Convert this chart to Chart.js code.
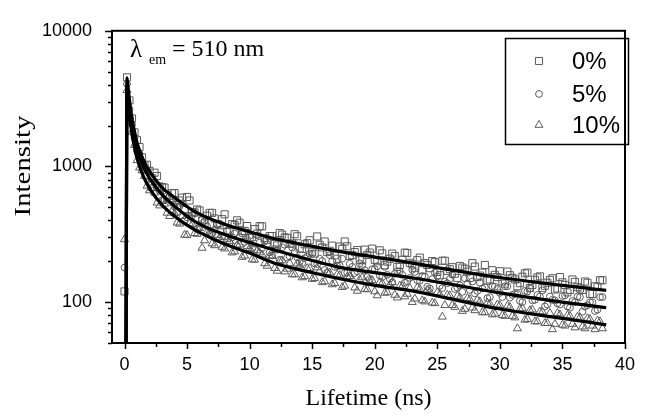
<!DOCTYPE html>
<html>
<head>
<meta charset="utf-8">
<script src="https://cdn.jsdelivr.net/npm/chart.js@4.4.0/dist/chart.umd.min.js"></script>
<style>
  html, body { margin: 0; padding: 0; background: #fff; }
  #wrap { width: 646px; height: 417px; }
</style>
</head>
<body>
<div id="wrap"><canvas id="decayChart" width="646" height="417"></canvas></div>
<script>
// time channels (ns): set A = rising edge + 0.2, 0.6, ... 38.2 ; set B = 0.4, 0.8, ... 38.0
const timesA = [0];
for (let i = 0; i < 96; i++) timesA.push(+(0.2 + i * 0.4).toFixed(1));
const timesB = [];
for (let i = 0; i < 95; i++) timesB.push(+(0.4 + i * 0.4).toFixed(1));

const pct0A = [120, 4540, 2260, 1570, 1170, 1030, 820, 850, 705, 618, 635,
    520, 589, 596, 461, 482, 400, 434, 455, 375, 409,
    329, 376, 401, 333, 364, 301, 320, 362, 287, 307,
    262, 315, 298, 270, 306, 247, 272, 235, 305, 253,
    234, 261, 209, 247, 258, 222, 242, 204, 223, 248,
    200, 229, 199, 228, 182, 205, 230, 190, 204, 172,
    188, 201, 167, 202, 170, 181, 151, 180, 168, 194,
    153, 165, 144, 172, 153, 142, 168, 151, 131, 154,
    165, 134, 152, 127, 139, 150, 126, 140, 118, 147,
    129, 123, 139, 115, 130, 145];
const pct0B = [3070, 1785, 1390, 1020, 930, 900, 713, 699, 582, 637,
    561, 485, 561, 458, 474, 380, 455, 414, 369, 444,
    337, 371, 385, 335, 297, 346, 363, 296, 307, 268,
    323, 300, 270, 317, 249, 267, 286, 228, 265, 280,
    239, 221, 257, 280, 219, 234, 204, 244, 232, 205,
    241, 187, 209, 219, 188, 232, 195, 179, 213, 194,
    178, 197, 158, 202, 175, 162, 185, 176, 151, 183,
    157, 188, 147, 159, 169, 137, 158, 147, 138, 163,
    127, 146, 155, 132, 146, 124, 153, 134, 123, 141,
    126, 142, 115, 131, 145];
const pct5A = [180, 4050, 2040, 1300, 1076, 943, 742, 694, 564, 606, 542,
    463, 535, 421, 435, 345, 407, 363, 319, 376, 306,
    337, 300, 260, 320, 291, 248, 311, 251, 267, 221,
    244, 254, 213, 252, 214, 194, 217, 227, 191, 201,
    165, 201, 184, 209, 165, 182, 169, 187, 153, 175,
    184, 153, 159, 140, 169, 159, 143, 173, 145, 156,
    130, 148, 155, 127, 138, 159, 128, 119, 137, 142,
    121, 126, 107, 131, 125, 109, 131, 113, 115, 100,
    120, 103, 113, 122, 96, 104, 98, 111, 93, 102,
    110, 85, 95, 100, 88, 109];
const pct5B = [2640, 1625, 1242, 946, 771, 760, 663, 568, 600, 506,
    509, 402, 433, 451, 359, 396, 321, 341, 379, 304,
    273, 320, 303, 278, 309, 245, 275, 281, 233, 247,
    205, 265, 217, 235, 198, 211, 228, 193, 209, 173,
    222, 182, 186, 164, 192, 164, 193, 172, 148, 175,
    157, 182, 149, 162, 169, 139, 151, 167, 144, 154,
    126, 165, 132, 142, 148, 125, 133, 150, 123, 116,
    139, 129, 109, 130, 117, 131, 108, 115, 102, 121,
    126, 104, 110, 93, 110, 103, 96, 112, 91, 100,
    109, 93, 100, 86, 109];
const pct10A = [290, 3650, 1800, 1110, 935, 720, 690, 540, 555, 455, 470,
    385, 430, 312, 375, 318, 251, 330, 270, 312, 255,
    290, 232, 262, 215, 258, 206, 240, 224, 185, 218,
    170, 203, 176, 160, 192, 152, 178, 148, 180, 140,
    166, 135, 160, 129, 154, 148, 121, 152, 124, 145,
    112, 138, 118, 140, 108, 131, 115, 100, 128, 103,
    123, 99, 118, 78, 113, 95, 111, 86, 107, 91,
    104, 84, 99, 81, 96, 80, 94, 79, 64, 90,
    75, 88, 72, 85, 70, 63, 83, 68, 80, 69,
    78, 66, 76, 67, 73, 64];
const pct10B = [2350, 1440, 980, 850, 665, 640, 515, 530, 430, 452,
    378, 313, 380, 322, 350, 285, 318, 262, 300, 248,
    282, 236, 265, 220, 250, 205, 232, 193, 220, 178,
    200, 168, 194, 160, 186, 155, 178, 150, 170, 142,
    165, 138, 158, 132, 155, 128, 147, 125, 143, 120,
    140, 117, 134, 113, 132, 110, 127, 106, 125, 101,
    120, 98, 114, 95, 112, 92, 108, 89, 105, 87,
    101, 84, 97, 82, 95, 79, 92, 77, 89, 74,
    87, 72, 85, 70, 83, 69, 81, 67, 79, 65,
    77, 64, 75, 63, 72];

// fitted curves (drawn as lines)
const fitTimes = [0.12, 0.2, 0.3, 0.5, 0.75, 1, 1.5, 2, 3, 4, 5, 6, 8, 10, 12.25, 15, 17, 20, 23.2, 25.6, 30, 35, 38.5];
const fit0  = [40, 4500, 3700, 2600, 1900, 1500, 1120, 920, 700, 590, 505, 445, 375, 330, 290, 258, 238, 215, 193, 176, 152, 133, 122];
const fit5  = [40, 4100, 3300, 2300, 1700, 1350, 1000, 820, 620, 510, 430, 376, 315, 275, 238, 203, 182, 165, 150, 138, 117, 100, 91];
const fit10 = [40, 3700, 2900, 2000, 1450, 1150, 850, 690, 520, 430, 370, 327, 268, 230, 190, 165, 150, 133, 120, 108, 89, 76, 68];

const seriesLabels = ['0%', '5%', '10%'];
const markerStyles = ['rect', 'circle', 'triangle'];
const xTicks = [0, 5, 10, 15, 20, 25, 30, 35, 40];
const yTicks = [100, 1000, 10000];

const toPoints = (xs, ys) => xs.map((x, i) => ({ x: x, y: ys[i] }));

const markerColor = '#5a5a5a';
const markerSizes = [5, 3.4, 4.6];

function markerSet(valsA, valsB, k) {
    return {
        label: seriesLabels[k],
        data: toPoints(timesA, valsA).concat(toPoints(timesB, valsB)),
        showLine: false,
        pointStyle: markerStyles[k],
        pointRadius: markerSizes[k],
        pointBorderWidth: 1,
        pointBorderColor: markerColor,
        pointBackgroundColor: 'rgba(0,0,0,0)',
        order: 2
    };
}
function fitSet(vals) {
    return {
        label: 'fit',
        data: toPoints(fitTimes, vals),
        showLine: true,
        borderColor: '#000',
        borderWidth: 3.2,
        pointRadius: 0,
        cubicInterpolationMode: 'monotone',
        order: 0
    };
}

const frame = {
    id: 'frame',
    afterDraw(chart) {
        const ctx = chart.ctx;
        const a = chart.chartArea;
        const xs = chart.scales.x, ys = chart.scales.y;
        ctx.save();
        ctx.strokeStyle = '#000';
        ctx.lineWidth = 2;
        ctx.strokeRect(a.left, a.top, a.right - a.left, a.bottom - a.top);
        ctx.lineWidth = 1.5;
        ctx.beginPath();
        // x ticks, majors every 5, minors in between
        for (let v = 0; v <= 40; v += 2.5) {
            const px = Math.round(xs.getPixelForValue(v)) + 0.5;
            const len = v % 5 === 0 ? 6 : 4;
            ctx.moveTo(px, a.bottom);
            ctx.lineTo(px, a.bottom + len);
        }
        // y ticks, log minors
        for (let dec = 10; dec <= 1000; dec *= 10) {
            for (let m = 1; m <= 10; m++) {
                const v = dec * m;
                if (v < 50 || v > 10000) continue;
                const py = Math.round(ys.getPixelForValue(v)) + 0.5;
                const len = (m === 1 || m === 10) ? 7 : 4;
                ctx.moveTo(a.left, py);
                ctx.lineTo(a.left - len, py);
            }
        }
        ctx.stroke();

        // y title
        ctx.fillStyle = '#000';
        ctx.save();
        ctx.translate(30, 166);
        ctx.rotate(-Math.PI / 2);
        ctx.scale(1.2, 1);
        ctx.font = '24px "Liberation Serif", serif';
        ctx.textAlign = 'center';
        ctx.textBaseline = 'alphabetic';
        ctx.fillText('Intensity', 0, 0);
        ctx.restore();

        // annotation
        ctx.textBaseline = 'alphabetic';
        ctx.font = '25px "Liberation Serif", serif';
        ctx.fillText('λ', 130, 57);
        ctx.font = '14px "Liberation Serif", serif';
        ctx.fillText('em', 149, 64);
        ctx.font = '24px "Liberation Serif", serif';
        ctx.fillText('= 510 nm', 172, 56);

        // legend
        ctx.lineWidth = 1.5;
        ctx.strokeRect(505.5, 38.5, 123, 106);
        const rows = [61, 94, 125];
        ctx.strokeStyle = markerColor;
        ctx.fillStyle = 'rgba(0,0,0,0)';
        ctx.lineWidth = 1;
        rows.forEach((ry, k) => {
            Chart.helpers.drawPoint(ctx, {
                pointStyle: markerStyles[k], radius: markerSizes[k], borderWidth: 1
            }, 539, ry);
        });
        ctx.fillStyle = '#000';
        ctx.font = '24px "Liberation Sans", Arial, sans-serif';
        ctx.textBaseline = 'middle';
        rows.forEach((ry, k) => ctx.fillText(seriesLabels[k], 572, ry + 1));
        ctx.restore();
    }
};

new Chart(document.getElementById('decayChart'), {
    type: 'scatter',
    data: {
        datasets: [
            fitSet(fit0), fitSet(fit5), fitSet(fit10),
            markerSet(pct0A, pct0B, 0), markerSet(pct5A, pct5B, 1), markerSet(pct10A, pct10B, 2)
        ]
    },
    options: {
        responsive: false,
        animation: false,
        layout: { padding: { left: 0, right: 12, top: 23, bottom: 0 } },
        plugins: { legend: { display: false }, tooltip: { enabled: false } },
        scales: {
            x: {
                type: 'linear', min: -1, max: 40,
                afterBuildTicks: s => { s.ticks = xTicks.map(v => ({ value: v })); },
                afterFit: s => { s.height = 74; },
                grid: { display: false, drawTicks: false },
                border: { display: false },
                ticks: { color: '#000', padding: 11, maxRotation: 0,
                         font: { family: '"Liberation Sans", Arial, sans-serif', size: 18 } },
                title: { display: true, text: 'Lifetime (ns)', color: '#000',
                         padding: { top: 0, bottom: 4 },
                         font: { family: '"Liberation Serif", serif', size: 24 } }
            },
            y: {
                type: 'logarithmic', min: 50, max: 10000,
                afterBuildTicks: s => { s.ticks = yTicks.map(v => ({ value: v })); },
                afterFit: s => { s.width = 112; },
                grid: { display: false, drawTicks: false },
                border: { display: false },
                ticks: { color: '#000', padding: 20,
                         callback: v => String(v),
                         font: { family: '"Liberation Sans", Arial, sans-serif', size: 18 } },
                title: { display: false }
            }
        }
    },
    plugins: [frame]
});
</script>
</body>
</html>
